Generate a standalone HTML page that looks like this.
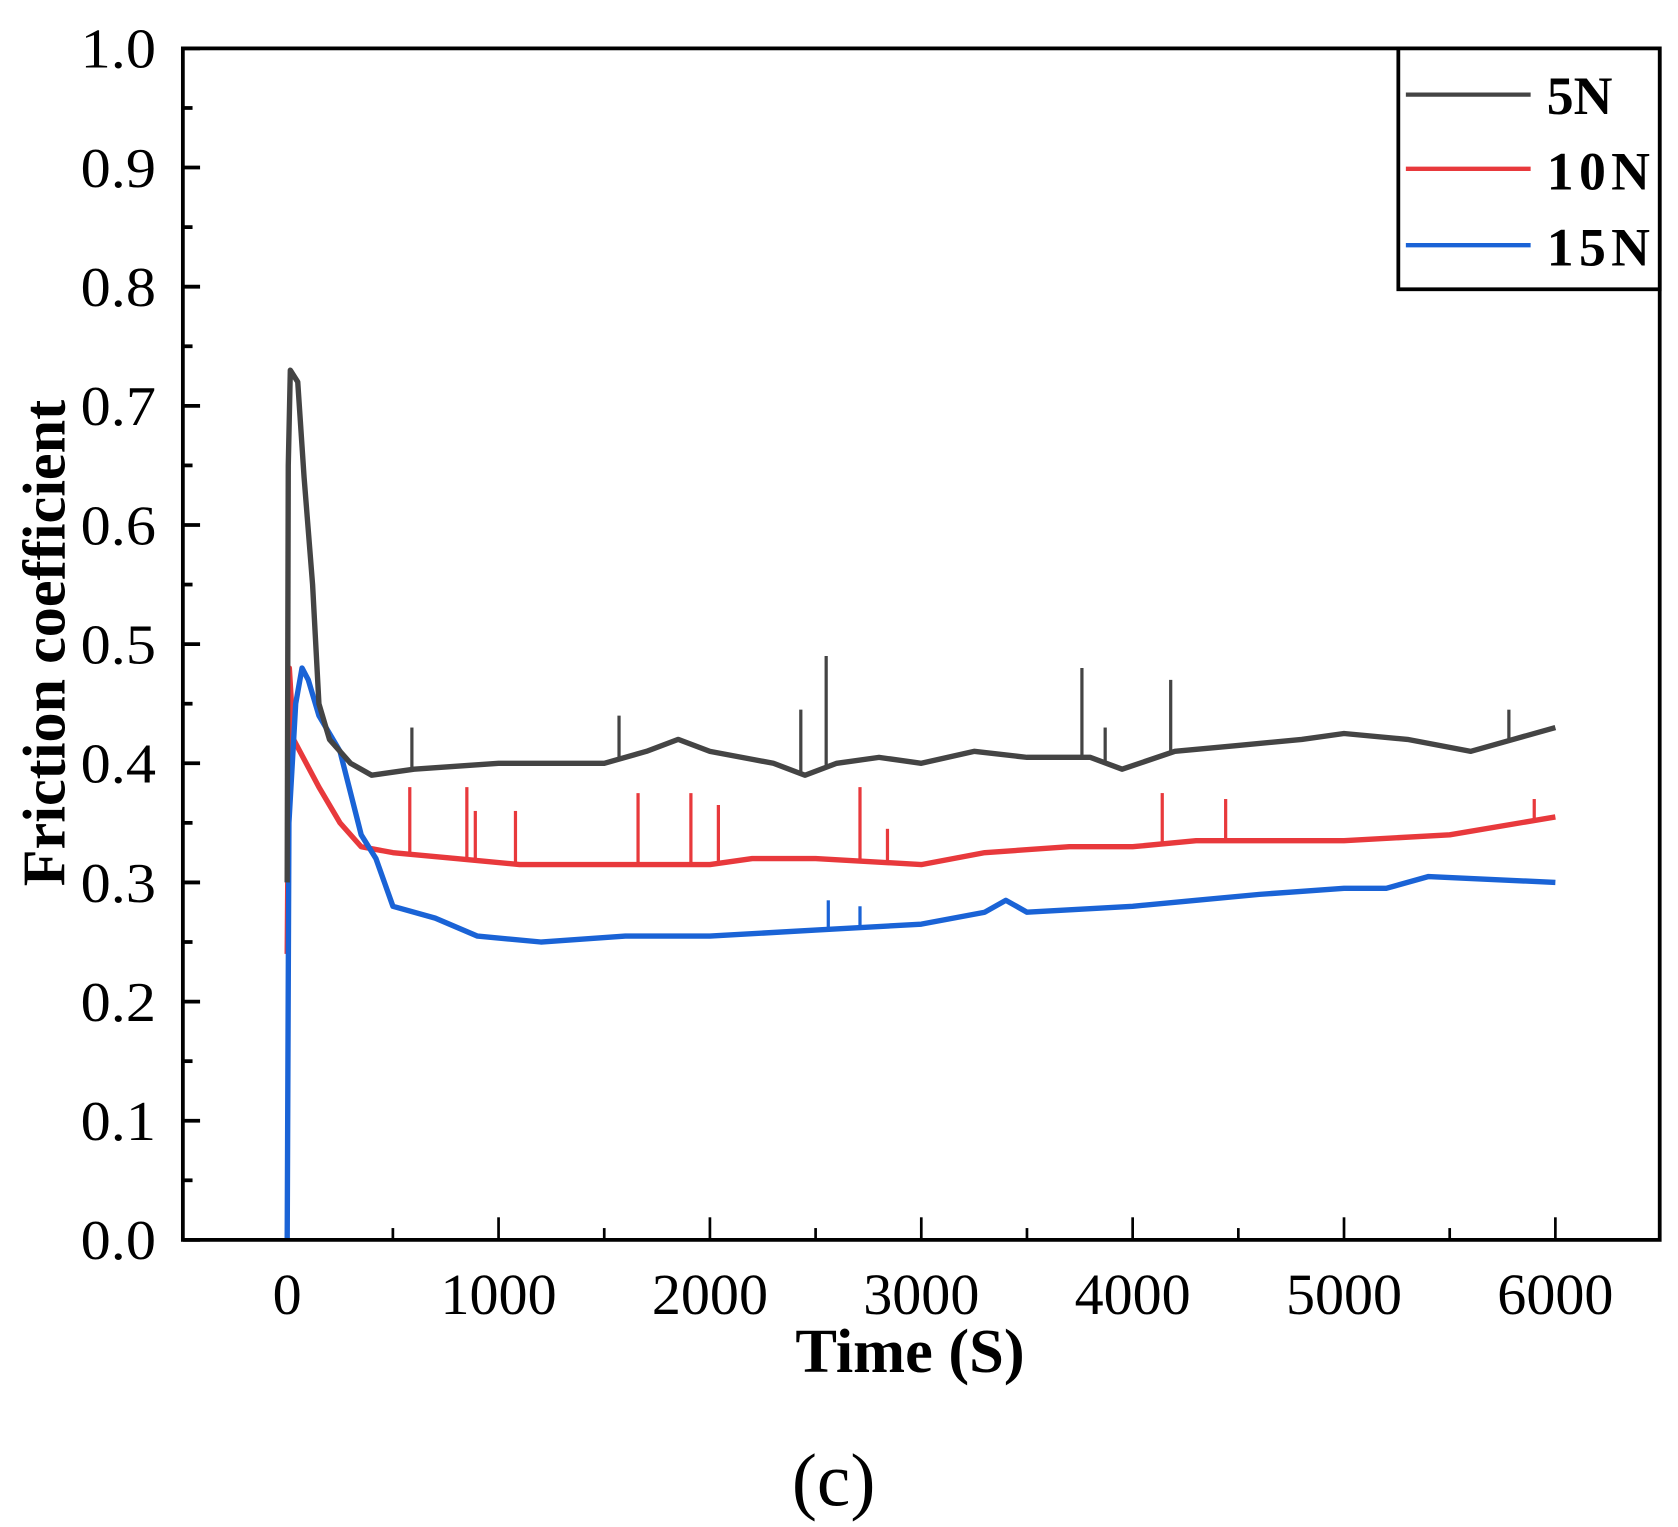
<!DOCTYPE html>
<html><head><meta charset="utf-8"><style>html,body{margin:0;padding:0;background:#fff}svg{display:block}</style></head>
<body>
<svg width="1678" height="1527" viewBox="0 0 1560 1420" preserveAspectRatio="none" xmlns="http://www.w3.org/2000/svg" font-family="Liberation Serif, serif">
<rect x="0" y="0" width="1560" height="1420" fill="#fff"/>
<g id="plot"></g>
<rect x="170" y="45" width="1373" height="1108" fill="none" stroke="#000" stroke-width="3.5"/>
<g>
<rect x="1300" y="45" width="243" height="224" fill="#fff" stroke="#000" stroke-width="3.5"/>
<line x1="1307" x2="1423" y1="88" y2="88" stroke="#444" stroke-width="4"/>
<text x="1438" y="106" font-size="50" font-weight="bold">5N</text>
<line x1="1307" x2="1423" y1="157" y2="157" stroke="#e8393c" stroke-width="4"/>
<text x="1438" y="176" font-size="50" font-weight="bold" textLength="96">10N</text>
<line x1="1307" x2="1423" y1="228" y2="228" stroke="#1a63d6" stroke-width="4"/>
<text x="1438" y="247" font-size="50" font-weight="bold" textLength="96">15N</text>
</g>
<text transform="translate(60,598) rotate(-90)" text-anchor="middle" font-size="56" font-weight="bold">Friction coefficient</text>
<text x="846" y="1276" text-anchor="middle" font-size="58" font-weight="bold">Time (S)</text>
<text x="775" y="1400" text-anchor="middle" font-size="70">(c)</text>
</svg>
<script>
const xTicks=[0,1000,2000,3000,4000,5000,6000];
const yTicks=[0.0,0.1,0.2,0.3,0.4,0.5,0.6,0.7,0.8,0.9,1.0];
const t5=[0,5,15,50,80,120,150,200,300,400,600,1000,1200,1500,1700,1850,2000,2300,2450,2600,2800,3000,3250,3500,3800,3950,4200,4500,4800,5000,5300,5600,5800,6000];
const v5=[0.3,0.65,0.73,0.72,0.64,0.55,0.45,0.42,0.40,0.39,0.395,0.40,0.40,0.40,0.41,0.42,0.41,0.40,0.39,0.40,0.405,0.40,0.41,0.405,0.405,0.395,0.41,0.415,0.42,0.425,0.42,0.41,0.42,0.43];
const s5t=[590,1570,2430,2550,3760,3870,4180,5780];
const s5v=[0.43,0.44,0.445,0.49,0.48,0.43,0.47,0.445];
const t10=[0,10,30,60,150,250,350,500,800,1100,1500,2000,2200,2500,3000,3300,3700,4000,4300,4700,5000,5500,6000];
const v10=[0.24,0.48,0.42,0.41,0.38,0.35,0.33,0.325,0.32,0.315,0.315,0.315,0.32,0.32,0.315,0.325,0.33,0.33,0.335,0.335,0.335,0.34,0.355];
const s10t=[580,850,890,1080,1660,1910,2040,2710,2840,4140,4440,5900];
const s10v=[0.38,0.38,0.36,0.36,0.375,0.375,0.365,0.38,0.345,0.375,0.37,0.37];
const t15=[0,8,40,70,100,150,250,350,420,500,700,900,1200,1600,2000,2500,3000,3300,3400,3500,4000,4300,4600,5000,5200,5400,6000];
const v15=[0.0,0.35,0.45,0.48,0.47,0.44,0.41,0.34,0.32,0.28,0.27,0.255,0.25,0.255,0.255,0.26,0.265,0.275,0.285,0.275,0.28,0.285,0.29,0.295,0.295,0.305,0.30];
const s15t=[2560,2710];
const s15v=[0.285,0.28];
const X=t=>267+(t/6000)*(1446-267);
const Y=v=>1153-v*1108;
const NS='http://www.w3.org/2000/svg';
const plot=document.getElementById('plot');
function mk(tag,attrs){const e=document.createElementNS(NS,tag);for(const k in attrs)e.setAttribute(k,attrs[k]);plot.appendChild(e);return e;}
for(let i=0;i<yTicks.length;i++){
 const y=Y(yTicks[i]);
 const tk=mk('line',{x1:170,x2:186,y1:y,y2:y,stroke:'#000','stroke-width':3.5});
 
 
 if(i<yTicks.length-1){const ym=Y(yTicks[i]+0.05);const m=mk('line',{x1:170,x2:179,y1:ym,y2:ym,stroke:'#000','stroke-width':3.5});
 
 }
 const lb=mk('text',{x:145,y:y+18,'text-anchor':'end','font-size':52,textLength:70,lengthAdjust:'spacingAndGlyphs'});
 lb.textContent=yTicks[i].toFixed(1);
 
 
}
for(let i=0;i<xTicks.length;i++){
 const x=X(xTicks[i]);
 const tk=mk('line',{x1:x,x2:x,y1:1153,y2:1132,stroke:'#000','stroke-width':2.5});
 
 
 if(i<xTicks.length-1){const xm=X(xTicks[i]+500);const m=mk('line',{x1:xm,x2:xm,y1:1153,y2:1142,stroke:'#000','stroke-width':2.5});
 
 }
 const lb=mk('text',{x:x,y:1222,'text-anchor':'middle','font-size':54});
 lb.textContent=xTicks[i];
 
 
}
function series(ts,vs,st,sv,color,name){
 const d=ts.map((t,i)=>(i?'L':'M')+X(t).toFixed(1)+','+Y(vs[i]).toFixed(1)).join('');
 const p=mk('path',{d:d,fill:'none',stroke:color,'stroke-width':5,'stroke-linejoin':'round'});
 
 
 for(let i=0;i<st.length;i++){
  let j=0;while(j<ts.length-1&&ts[j+1]<st[i])j++;
  const f=(st[i]-ts[j])/(ts[j+1]-ts[j]);const base=vs[j]+f*(vs[j+1]-vs[j]);
  const s=mk('line',{x1:X(st[i]),x2:X(st[i]),y1:Y(base),y2:Y(sv[i]),stroke:color,'stroke-width':3});
  
  
 }
}
series(t10,v10,s10t,s10v,'#e8393c','series-10n');
series(t15,v15,s15t,s15v,'#1a63d6','series-15n');
series(t5,v5,s5t,s5v,'#444','series-5n');
</script>
</body></html>
